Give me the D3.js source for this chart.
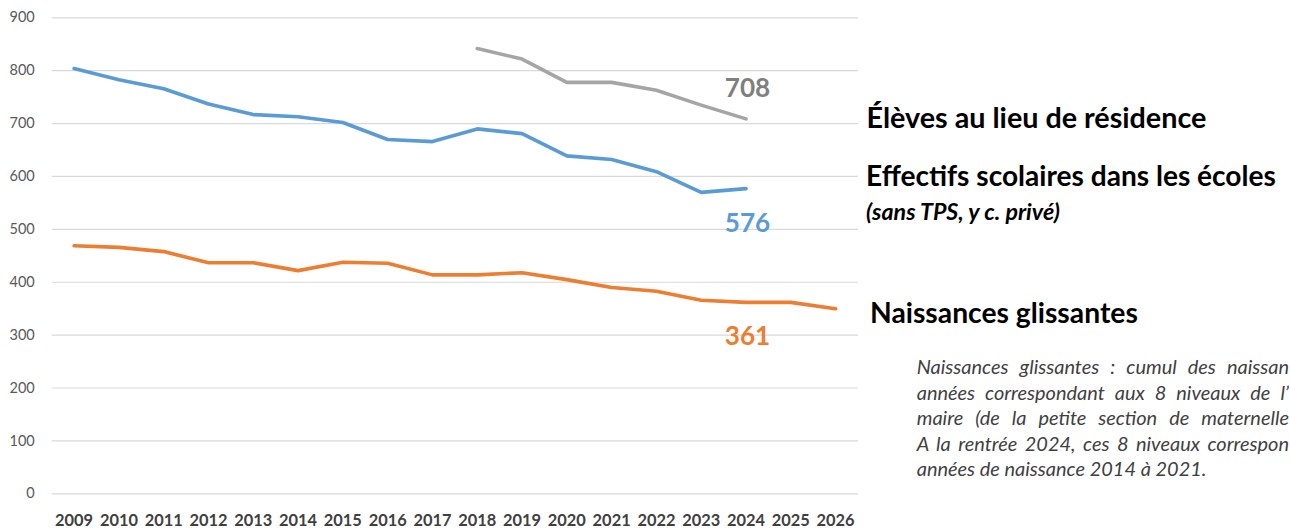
<!DOCTYPE html>
<html><head><meta charset="utf-8">
<script src="https://cdn.jsdelivr.net/npm/d3@7"></script>
<style>
body{margin:0;background:#fff;}
svg{display:block;font-family:Lato,"Open Sans","Liberation Sans",sans-serif;}
</style>
</head><body>
<svg id="c" width="1290" height="529"></svg>
<script>
// ---------- data ----------
const years = [2009,2010,2011,2012,2013,2014,2015,2016,2017,2018,2019,2020,2021,2022,2023,2024,2025,2026];
const yTicks = [0,100,200,300,400,500,600,700,800,900];
const effectifsYears = [2009,2010,2011,2012,2013,2014,2015,2016,2017,2018,2019,2020,2021,2022,2023,2024];
const effectifs = [803,782,765,736,716,712,701,669,665,689,680,638,631,608,569,576];
const elevesYears = [2018,2019,2020,2021,2022,2023,2024];
const eleves = [841,821,777,777,762,734,708];
const naissancesYears = years;
const naissances = [468,465,457,436,436,421,437,435,413,413,417,404,389,382,365,361,361,349];
const endLabels = [
  {year:2024, value:708, text:"708", color:"#7f7f7f", dy:-21.5},
  {year:2024, value:576, text:"576", color:"#5b9bd5", dy:43},
  {year:2024, value:361, text:"361", color:"#ed7d31", dy:42.6}
];
const seriesLabels = [
  {text:"Élèves au lieu de résidence", x:866.5, y:128, w:340, weight:"bold", style:"normal"},
  {text:"Effectifs scolaires dans les écoles", x:866, y:186, w:410, weight:"bold", style:"normal"},
  {text:"(sans TPS, y c. privé)", x:866, y:220, w:194, weight:"bold", style:"italic"},
  {text:"Naissances glissantes", x:870, y:323, w:268, weight:"bold", style:"normal"}
];
const noteLines = [
  "Naissances glissantes : cumul des naissan",
  "années correspondant aux 8 niveaux de l’",
  "maire (de la petite section de maternelle",
  "A la rentrée 2024, ces 8 niveaux correspon",
  "années de naissance 2014 à 2021."
];

// ---------- layout ----------
const svg = d3.select("#c");
const mLeft = 51.7, mRight = 858, mTop = 17.3, mBottom = 493.3;
const x = d3.scaleBand().domain(years).range([mLeft, mRight]);
const cx = d => x(d) + x.bandwidth()/2;
const y = d3.scaleLinear().domain([0,900]).range([mBottom, mTop]);

function fit(sel, width){
  const w = sel.node().getComputedTextLength();
  const fs = parseFloat(sel.attr("font-size"));
  sel.attr("font-size", fs*width/w);
}

// gridlines + y axis
const ya = svg.append("g").attr("transform",`translate(${mLeft},0)`)
  .call(d3.axisLeft(y).tickValues(yTicks).tickSize(-(mRight-mLeft)).tickPadding(17).tickFormat(d3.format("d")));
ya.select(".domain").remove();
ya.selectAll(".tick line").attr("stroke","#d9d9d9").attr("stroke-width",1.2);
ya.selectAll(".tick text").attr("fill","#595959").attr("font-size",14.5)
  .attr("font-family","Lato,'Open Sans',sans-serif");

// x axis
const xa = svg.append("g").attr("transform",`translate(0,${mBottom})`)
  .call(d3.axisBottom(x).tickSize(0).tickPadding(21));
xa.select(".domain").remove();
xa.selectAll(".tick text").attr("fill","#404040").attr("font-size",16.4).attr("font-weight","bold")
  .attr("font-family","Lato,'Open Sans',sans-serif");

// lines
const line = d3.line().x(d=>cx(d[0])).y(d=>y(d[1]));
function draw(ys, vs, color){
  svg.append("path").datum(ys.map((yy,i)=>[yy,vs[i]]))
    .attr("d", line).attr("fill","none").attr("stroke",color)
    .attr("stroke-width",3.6).attr("stroke-linejoin","round").attr("stroke-linecap","round");
}
draw(naissancesYears, naissances, "#ed7d31");
draw(effectifsYears, effectifs, "#5b9bd5");
draw(elevesYears, eleves, "#a5a5a5");

// end value labels
endLabels.forEach(l=>{
  const t = svg.append("text").attr("x", cx(l.year)+1.5).attr("y", y(l.value)+l.dy)
    .attr("text-anchor","middle").attr("font-weight","bold").attr("font-size",26)
    .attr("fill", l.color).text(l.text);
  fit(t, 45.5);
});

// series labels
seriesLabels.forEach(l=>{
  const t = svg.append("text").attr("x",l.x).attr("y",l.y).attr("font-weight",l.weight)
    .attr("font-style",l.style).attr("font-size",24).attr("fill","#000").text(l.text);
  fit(t, l.w);
});

// note (justified, clipped on the right)
const noteX = 916.7, noteTop = 374, noteStep = 25.5;
const last = svg.append("text").attr("x",noteX).attr("y",noteTop+4*noteStep)
  .attr("font-style","italic").attr("font-size",17).attr("fill","#3f3f3f").text(noteLines[4]);
fit(last, 290);
const noteFs = parseFloat(last.attr("font-size"));
noteLines.slice(0,4).forEach((s,i)=>{
  const t = svg.append("text").attr("x",noteX).attr("y",noteTop+i*noteStep)
    .attr("font-style","italic").attr("font-size",noteFs).attr("fill","#3f3f3f").text(s);
  const w = t.node().getComputedTextLength();
  const spaces = (s.match(/ /g)||[]).length;
  const target = 1290 - noteX - 1;
  t.attr("word-spacing", Math.max(0,(target - w)/spaces));
});
</script>
</body></html>
